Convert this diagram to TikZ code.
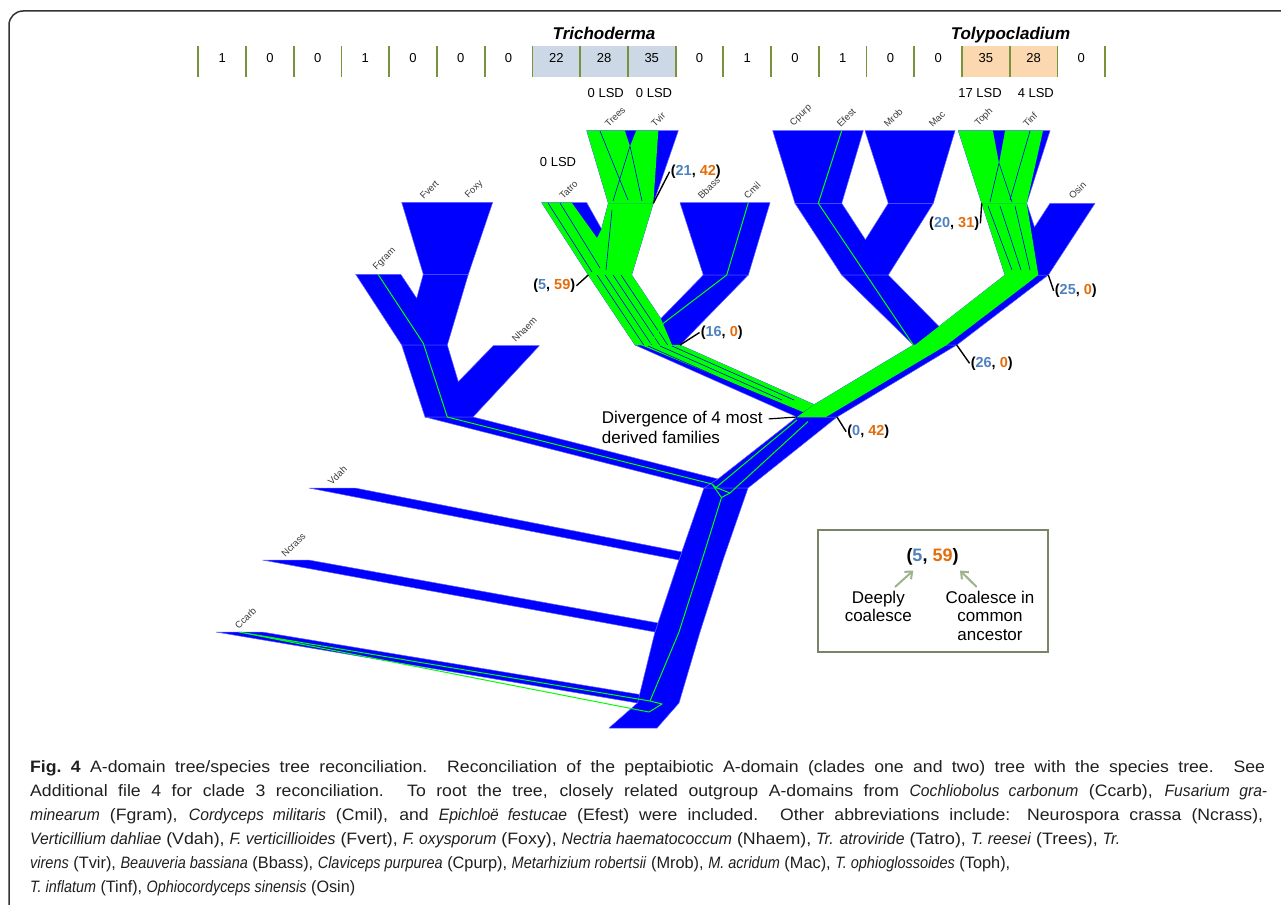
\documentclass[tikz,border=0pt]{standalone}
\usepackage{fontspec}
\usepackage{graphicx}
\setmainfont{Liberation Sans}
\newfontfamily\capfont{Liberation Sans}[FakeStretch=1.07,ItalicFeatures={FakeStretch=0.95}]
\usetikzlibrary{arrows.meta}
\definecolor{tb}{HTML}{0000FF}
\definecolor{tg}{HTML}{00FF00}
\definecolor{tedge}{HTML}{5C5CFF}
\definecolor{barline}{HTML}{77933C}
\definecolor{cellblue}{HTML}{CCD8E6}
\definecolor{cellpeach}{HTML}{FBD8B0}
\definecolor{numblue}{HTML}{4F81BD}
\definecolor{numorange}{HTML}{E46C0A}
\definecolor{legborder}{HTML}{7A8468}
\definecolor{legarrow}{HTML}{9CB38B}
\definecolor{framegray}{HTML}{333333}
\definecolor{leafgray}{HTML}{3A3A3A}
\newcommand{\pairlab}[2]{(\textcolor{numblue}{#1}, \textcolor{numorange}{#2})}
\newlength\capw
\newcommand{\capline}[2]{\resizebox{#1}{\height}{#2}}
\newcommand{\capjust}[2]{\settowidth{\capw}{#2}\ifdim\capw>#1\relax\resizebox{#1}{\height}{#2}\else\makebox[#1][s]{#2}\fi}
\begin{document}
\begin{tikzpicture}[x=1pt,y=-1pt,
  sp/.style={fill=tb, draw=tedge, line width=0.5pt, line join=round},
  grn/.style={fill=tg},
  gln/.style={draw=tg, line width=1pt, line join=round},
  bln/.style={draw=tb, line width=0.6pt},
  leaf/.style={rotate=45, anchor=south west, inner sep=0pt, text=leafgray, font=\fontsize{9.5}{10}\selectfont},
  cnt/.style={inner sep=0pt, font=\fontsize{13}{14}\selectfont},
  rec/.style={inner sep=1pt, font=\bfseries\fontsize{14.5}{16}\selectfont},
  ptr/.style={draw=black, line width=1.4pt},
  lsd/.style={anchor=base, inner sep=0pt, font=\fontsize{13}{14}\selectfont},
  genus/.style={anchor=base, inner sep=0pt, font=\bfseries\itshape\fontsize{17}{20}\selectfont},
  txt/.style={anchor=base west, inner sep=0pt, font=\fontsize{17}{20}\selectfont},
  captxt/.style={anchor=base west, inner sep=0pt, font=\capfont\fontsize{16.5}{20}\selectfont, text=black!88},
]
\useasboundingbox (0,0) rectangle (1281,904);
% frame
\draw[framegray, line width=1.5pt, rounded corners=14pt] (9,910) -- (9,11) -- (1290,11);

% ---------- top bar ----------
\fill[cellblue] (532.4,46) rectangle (675.6,77);
\fill[cellpeach] (962,46) rectangle (1057.4,77);
\foreach \i in {0,...,19} \draw[barline, line width=1.8pt] ({198.3+47.73*\i},46) -- ({198.3+47.73*\i},77);
\foreach \v [count=\i from 0] in {1,0,0,1,0,0,0,22,28,35,0,1,0,1,0,0,35,28,0}
  \node[cnt] (n\i) at ({198.3+47.73*(\i+0.5)},57.7) {\v};
\node[genus] (trich) at (604,39.5) {Trichoderma};
\node[genus] (toly) at (1010.5,39.5) {Tolypocladium};
\node[lsd] (lsdA) at (605.8,97.3) {0 LSD};
\node[lsd] (lsdB) at (654,97.3) {0 LSD};
\node[lsd] (lsdC) at (980,97.3) {17 LSD};
\node[lsd] (lsdD) at (1035.8,97.3) {4 LSD};
\node[lsd] (lsdE) at (558,166.7) {0 LSD};

% ---------- species tree (blue) ----------
% Fusarium clade
\path[sp] (401.7,202.3) -- (492.7,202.3) -- (468.3,274.3) -- (423.3,274.3) -- cycle;
\path[sp] (355.7,274.3) -- (400.7,274.3) -- (416.7,298.3) -- (423.3,274.3) -- (468.3,274.3) -- (447.3,345) -- (401.7,345) -- cycle;
\path[sp] (401.7,345) -- (447.3,345) -- (458.3,381.7) -- (493.3,345.7) -- (539.3,345.7) -- (473,417) -- (425,417) -- cycle;
\path[sp] (425,417) -- (473,417) -- (718,479) -- (704,488) -- cycle;
% main node and trunk
\path[sp] (704,488) -- (718,479) -- (797,417) -- (837,417) -- (748,488) -- cycle;
\path[sp] (704,488) -- (748,488) -- (723,560) -- (700,632) -- (679,703) -- (657,728) -- (609,728) -- (637.5,703) -- (655,632) -- (679,560) -- cycle;
% outgroups
\path[sp] (309,488) -- (355,488) -- (681.8,552) -- (679,560) -- cycle;
\path[sp] (262.5,560) -- (308.5,560) -- (658,623) -- (655,632) -- cycle;
\path[sp] (216,632) -- (262,632) -- (639.6,694.5) -- (637.5,703) -- cycle;
% Trichoderma / Cordyceps
\path[sp] (586.7,130.7) -- (678.3,130.7) -- (653.3,203.3) -- (608.3,203.3) -- cycle;
\path[sp] (541.7,202.7) -- (586.7,202.7) -- (601.5,229) -- (608.3,203.3) -- (653.3,203.3) -- (631.7,275) -- (588.3,275) -- cycle;
\path[sp] (680,202.7) -- (770,202.7) -- (748.3,275) -- (703.3,275) -- cycle;
\path[sp] (588.3,275) -- (631.7,275) -- (660.8,318.6) -- (703.3,275) -- (748.3,275) -- (680,345) -- (635,345) -- cycle;
% Claviceps / Metarhizium
\path[sp] (772.7,130.7) -- (863.3,130.7) -- (841.7,203.3) -- (795,203.3) -- cycle;
\path[sp] (865,130.7) -- (955,130.7) -- (933.3,203.3) -- (888.3,203.3) -- cycle;
\path[sp] (795,203.3) -- (841.7,203.3) -- (865.4,239.7) -- (888.3,203.3) -- (933.3,203.3) -- (888.3,275) -- (841.7,275) -- cycle;
\path[sp] (841.7,275) -- (888.3,275) -- (939,326.5) -- (1005,275) -- (1048.3,275) -- (956.7,345) -- (913.3,345) -- cycle;
% Tolypocladium / Osin
\path[sp] (958.3,130.7) -- (1050,130.7) -- (1026.7,203.3) -- (981.7,203.3) -- cycle;
\path[sp] (981.7,203.3) -- (1026.7,203.3) -- (1034.5,227.2) -- (1050,203.3) -- (1095,203.3) -- (1048.3,275) -- (1005,275) -- cycle;
% upper bands
\path[sp] (635,345) -- (680,345) -- (814.2,404.6) -- (913.3,345) -- (956.7,345) -- (837,417) -- (797,417) -- cycle;

% ---------- gene tree (green) ----------
% Trichoderma cluster
\fill[grn] (586.7,130.7) -- (658.3,130.7) -- (653.3,203.3) -- (608.3,203.3) -- cycle;
\fill[tb] (625,130.7) -- (636,130.7) -- (630,146) -- cycle;
\draw[bln] (630,146) -- (613,201) (630,146) -- (642,201) (600,131) -- (628,200);
\fill[grn] (541.7,202.7) -- (571.7,202.7) -- (597,238) -- (601.5,229) -- (608.3,203.3) -- (653.3,203.3) -- (631.7,275) -- (588.3,275) -- cycle;
\draw[bln] (560,203) -- (600,268) (548,203) -- (592,272) (612,210) -- (606,270);
\fill[grn] (588.3,275) -- (631.7,275) -- (660.8,318.6) -- (672,345) -- (635,345) -- cycle;
\draw[bln] (597,275) -- (643.7,345) (605,275) -- (651.7,345) (613,275) -- (659.7,345) (621,275) -- (667.7,345);
\fill[grn] (641,345) -- (680,345) -- (814.2,404.6) -- (803,412) -- cycle;
\draw[bln] (648,346) -- (770,400) (660,346) -- (782,400) (672,346) -- (794,400);
% Tolypocladium cluster
\fill[grn] (958.3,130.7) -- (1043,130.7) -- (1026.7,203.3) -- (981.7,203.3) -- cycle;
\fill[tb] (993,130.7) -- (1005,130.7) -- (999,163) -- cycle;
\draw[bln] (999,163) -- (990,202) (999,163) -- (1012,202) (1030,131) -- (1010,200);
\fill[grn] (981.7,203.3) -- (1026.7,203.3) -- (1038.3,275) -- (1005,275) -- cycle;
\draw[bln] (988,206) -- (1012,270) (1000,206) -- (1021,270) (1015,206) -- (1030,270);
\fill[grn] (1005,275) -- (1038.3,275) -- (946.7,345) -- (915,345) -- cycle;
\fill[grn] (913.3,345) -- (946.7,345) -- (826,417) -- (797,417) -- (814.2,404.6) -- cycle;
% single gene lineages
\draw[gln] (378,274.3) -- (423.3,343.3) -- (447.3,417) -- (712,484);
\draw[gln] (712,484) -- (716,487.5) -- (730,493) -- (721.5,497.5) -- cycle;
\draw[gln] (716,487.5) -- (797,420) (730,493) -- (808,421.5);
\draw[gln] (721.5,497.5) -- (702,560) -- (679,632) -- (650,701);
\draw[gln] (239,632) -- (650,701) -- (662,704) -- (649,712) -- cycle;
\draw[gln] (841.7,130.7) -- (818.3,203.3) -- (913.3,345);
\draw[gln] (748.3,202.7) -- (726.7,275) -- (663.3,323.3) -- (650,345);

% ---------- species labels ----------
\node[leaf] (lTrees) at (609,128) {Trees};
\node[leaf] (lTvir) at (655,128) {Tvir};
\node[leaf] (lCpurp) at (795,128) {Cpurp};
\node[leaf] (lEfest) at (841,128) {Efest};
\node[leaf] (lMrob) at (888,128) {Mrob};
\node[leaf] (lMac) at (933,128) {Mac};
\node[leaf] (lToph) at (980,128) {Toph};
\node[leaf] (lTinf) at (1027,128) {Tinf};
\node[leaf] (lOsin) at (1073,200) {Osin};
\node[leaf] (lTatro) at (563.5,200) {Tatro};
\node[leaf] (lBbass) at (702,200) {Bbass};
\node[leaf] (lCmil) at (748,200) {Cmil};
\node[leaf] (lFvert) at (424,200) {Fvert};
\node[leaf] (lFoxy) at (470,200) {Foxy};
\node[leaf] (lFgram) at (378,272) {Fgram};
\node[leaf] (lNhaem) at (516,343) {Nhaem};
\node[leaf] (lVdah) at (332,486) {Vdah};
\node[leaf] (lNcrass) at (285.5,558) {Ncrass};
\node[leaf] (lCcarb) at (239,630) {Ccarb};

% ---------- reconciliation counts ----------
\coordinate (kTT) at (653.3,203.3);
\coordinate (kTr) at (588.3,275);
\coordinate (kTC) at (680,345);
\coordinate (kTo) at (981.7,203.3);
\coordinate (kTO) at (1048.3,275);
\coordinate (kCT) at (956.7,345);
\coordinate (kUp) at (837,417);
\coordinate (kDiv) at (797,417);
\node[rec] (p2142) at (695.8,171.7) {\pairlab{21}{42}};
\node[rec] (p559) at (554.2,285.8) {\pairlab{5}{59}};
\node[rec] (p160) at (721.7,332.5) {\pairlab{16}{0}};
\node[rec] (p2031) at (954.2,223.3) {\pairlab{20}{31}};
\node[rec] (p250) at (1075.8,290.8) {\pairlab{25}{0}};
\node[rec] (p260) at (991.7,363.3) {\pairlab{26}{0}};
\node[rec] (p042) at (868.3,431.7) {\pairlab{0}{42}};
\draw[ptr] (p2142.west) -- (kTT);
\draw[ptr] (p559.east) -- (kTr);
\draw[ptr] (p160.west) -- (kTC);
\draw[ptr] (p2031.east) -- (kTo);
\draw[ptr] (p250.west) -- (kTO);
\draw[ptr] (p260.west) -- (kCT);
\draw[ptr] (p042.west) -- (kUp);
\node[txt] (div1) at (601.7,423.3) {Divergence of 4 most};
\node[txt] (div2) at (601.7,443.3) {derived families};
\draw[black, line width=1.2pt] ([xshift=6pt]div1.east) -- (kDiv);

% ---------- legend ----------
\draw[legborder, line width=2.5pt] (818,530) rectangle (1048,652);
\node[inner sep=0pt, font=\bfseries\fontsize{18}{20}\selectfont] (leg) at (932.5,556.5) {\pairlab{5}{59}};
\node[anchor=north, align=center, inner sep=0pt, font=\fontsize{17}{18.4}\selectfont] (deep) at (878.3,591) {Deeply\\coalesce};
\node[anchor=north, align=center, inner sep=0pt, font=\fontsize{17}{18.4}\selectfont] (coal) at (990,591) {Coalesce in\\common\\ancestor};
\coordinate (a1s) at (895,587);
\coordinate (a1e) at (913.3,570.5);
\coordinate (a2s) at (976.7,587);
\coordinate (a2e) at (960,570.5);
\draw[legarrow, line width=2pt, -{Straight Barb[length=6pt,width=10pt]}] (a1s) -- (a1e);
\draw[legarrow, line width=2pt, -{Straight Barb[length=6pt,width=10pt]}] (a2s) -- (a2e);

% ---------- caption ----------
\node[captxt] (cap1) at (30,772) {\capjust{1235pt}{\textbf{Fig.~4} A-domain tree/species tree reconciliation. Reconciliation of the peptaibiotic A-domain (clades one and two) tree with the species tree. See}};
\node[captxt] (cap2) at (30,796.1) {\capjust{1237pt}{Additional file 4 for clade 3 reconciliation. To root the tree, closely related outgroup A-domains from \textit{Cochliobolus carbonum} (Ccarb), \textit{Fusarium gra-}}};
\node[captxt] (cap3) at (30,820.2) {\capjust{1233pt}{\textit{minearum} (Fgram), \textit{Cordyceps militaris} (Cmil), and \textit{Epichloë festucae} (Efest) were included. Other abbreviations include: Neurospora crassa (Ncrass),}};
\node[captxt] (cap4) at (30,844.2) {\capline{1090pt}{\textit{Verticillium dahliae} (Vdah), \textit{F. verticillioides} (Fvert), \textit{F. oxysporum} (Foxy), \textit{Nectria haematococcum} (Nhaem), \textit{Tr. atroviride} (Tatro), \textit{T. reesei} (Trees), \textit{Tr.}}};
\node[captxt] (cap5) at (30,868.3) {\capline{980pt}{\textit{virens} (Tvir), \textit{Beauveria bassiana} (Bbass), \textit{Claviceps purpurea} (Cpurp), \textit{Metarhizium robertsii} (Mrob), \textit{M. acridum} (Mac), \textit{T. ophioglossoides} (Toph),}};
\node[captxt] (cap6) at (30,892.3) {\capline{325pt}{\textit{T. inflatum} (Tinf), \textit{Ophiocordyceps sinensis} (Osin)}};
\end{tikzpicture}
\end{document}
